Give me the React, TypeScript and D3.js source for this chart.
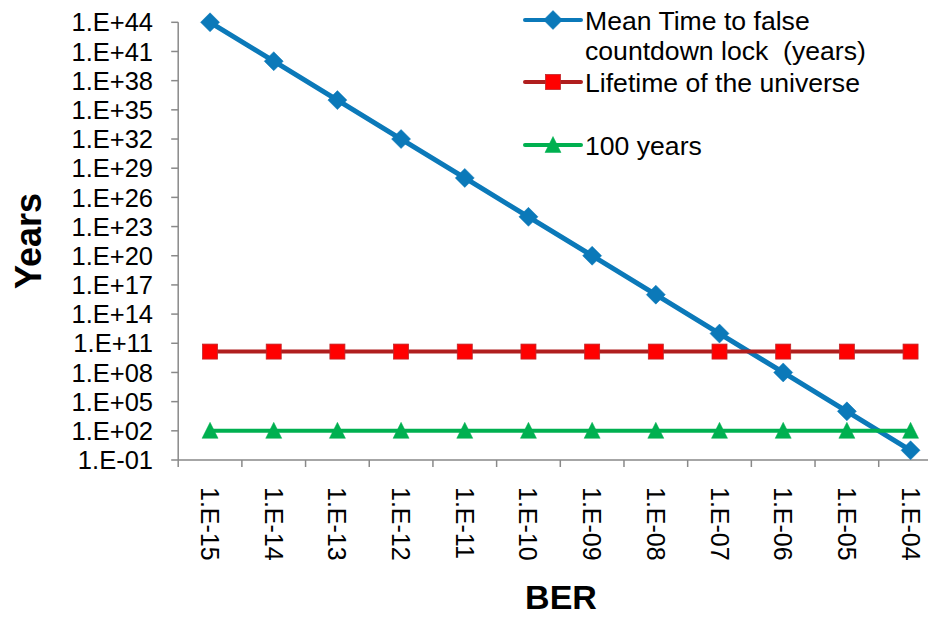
import React from "react";
import * as d3 from "d3";

const berLabels = ["1.E-15","1.E-14","1.E-13","1.E-12","1.E-11","1.E-10","1.E-09","1.E-08","1.E-07","1.E-06","1.E-05","1.E-04"];
const meanTime = [1e44,1e40,1e36,1e32,1e28,1e24,1e20,1e16,1e12,1e8,1e4,1e0];
const universeLife = [1.4e10,1.4e10,1.4e10,1.4e10,1.4e10,1.4e10,1.4e10,1.4e10,1.4e10,1.4e10,1.4e10,1.4e10];
const hundredYears = [100,100,100,100,100,100,100,100,100,100,100,100];
const yTickExponents = [-1,2,5,8,11,14,17,20,23,26,29,32,35,38,41,44];
const seriesNames = ["Mean Time to false|countdown lock  (years)", "Lifetime of the universe", "100 years"];

const W = 928, H = 617;
const FONT = "Arial, 'Liberation Sans', sans-serif";
const BLUE = "#0b79b9";
const RED_LINE = "#b01e1e";
const RED_FILL = "#ff0000";
const GREEN = "#00b050";
const AXIS = "#898989";

function fmt(e: number) {
  const s = Math.abs(e).toString().padStart(2, "0");
  return `1.E${e < 0 ? "-" : "+"}${s}`;
}

export default function App() {
  const x = d3.scaleBand<string>().domain(berLabels).range([178.2, 942.4]).padding(0);
  const y = d3.scaleLog().domain([0.1, 1e44]).range([460, 22.3]);
  const cx = (c: string) => (x(c) as number) + x.bandwidth() / 2;
  const line = d3.line<[string, number]>().x(d => cx(d[0])).y(d => y(d[1]));
  const x0 = 178.2, yBase = 460;

  const diamond = (px: number, py: number, k: number) => (
    <path key={k} d={`M${px},${py - 9.5}L${px + 9.5},${py}L${px},${py + 9.5}L${px - 9.5},${py}Z`} fill={BLUE} stroke={BLUE} strokeWidth={0.5} />
  );
  const square = (px: number, py: number, k: number) => (
    <rect key={k} x={px - 7.5} y={py - 7.5} width={15} height={15} fill={RED_FILL} stroke="#c0262a" strokeWidth={0.8} />
  );
  const tri = (px: number, py: number, k: number) => (
    <path key={k} d={`M${px},${py - 8.5}L${px + 8},${py + 7.5}L${px - 8},${py + 7.5}Z`} fill={GREEN} stroke={GREEN} strokeWidth={0.5} />
  );

  const boundaries = d3.range(berLabels.length + 1).map(i => x0 + i * x.bandwidth());

  const series = [
    { vals: meanTime, color: BLUE, marker: diamond, width: 5 },
    { vals: universeLife, color: RED_LINE, marker: square, width: 4 },
    { vals: hundredYears, color: GREEN, marker: tri, width: 4 },
  ];

  return (
    <svg width={W} height={H} style={{ position: "absolute", left: 0, top: 0, background: "#fff" }} fontFamily={FONT}>
      <rect width={W} height={H} fill="#fff" />
      <line x1={x0} x2={x0} y1={22.3} y2={yBase} stroke={AXIS} strokeWidth={1.5} />
      <line x1={x0} x2={W} y1={yBase} y2={yBase} stroke={AXIS} strokeWidth={1.5} />
      {yTickExponents.map(e => {
        const ty = y(Math.pow(10, e));
        return (
          <g key={e}>
            <line x1={x0 - 7} x2={x0} y1={ty} y2={ty} stroke={AXIS} strokeWidth={1.5} />
            <text x={153} y={ty} dy="0.36em" textAnchor="end" fontSize={25.5} fill="#000">{fmt(e)}</text>
          </g>
        );
      })}
      {boundaries.map((bx, i) => (
        <line key={i} x1={bx} x2={bx} y1={yBase} y2={yBase + 7} stroke={AXIS} strokeWidth={1.5} />
      ))}
      {berLabels.map(c => (
        <text key={c} transform={`translate(${cx(c)},487) rotate(90)`} dy="0.36em" textAnchor="start" fontSize={25} fill="#000">{c}</text>
      ))}
      <text transform={`translate(41,241) rotate(-90)`} textAnchor="middle" fontSize={36} fontWeight="bold" fill="#000">Years</text>
      <text x={561} y={609} textAnchor="middle" fontSize={34} fontWeight="bold" fill="#000">BER</text>
      {series.map((s, si) => (
        <g key={si}>
          <path d={line(berLabels.map((c, i) => [c, s.vals[i]] as [string, number])) || ""} fill="none" stroke={s.color} strokeWidth={s.width} strokeLinejoin="round" />
          {berLabels.map((c, i) => s.marker(cx(c), y(s.vals[i]), i))}
        </g>
      ))}
      {[20, 82, 145].map((ly, i) => {
        const s = series[i];
        const names = seriesNames[i].split("|");
        return (
          <g key={i}>
            <line x1={525} x2={581} y1={ly} y2={ly} stroke={s.color} strokeWidth={4} strokeLinecap="round" />
            {s.marker(553, ly, 100 + i)}
            {names.map((n, j) => (
              <text key={j} x={585} y={ly + j * 30} dy="0.36em" fontSize={26.6} fill="#000" style={{ whiteSpace: "pre" }}>{n}</text>
            ))}
          </g>
        );
      })}
    </svg>
  );
}
